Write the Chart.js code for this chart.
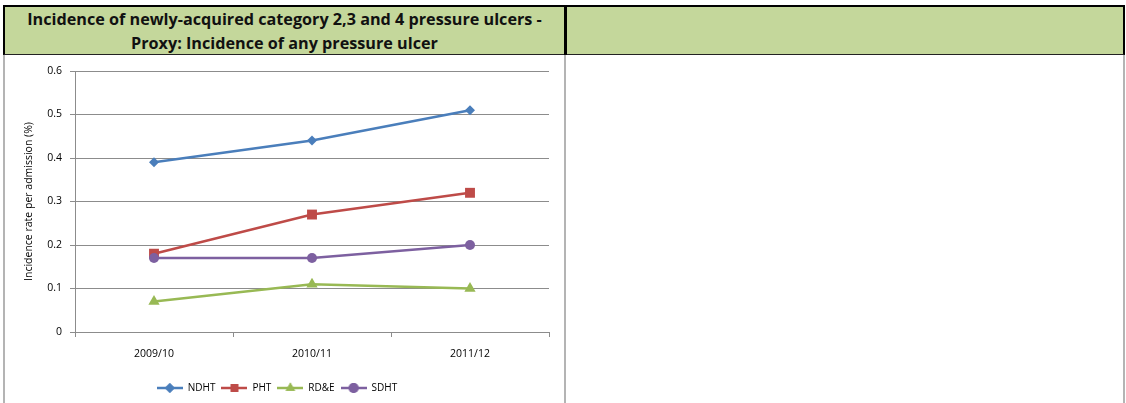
<!DOCTYPE html>
<html>
<head>
<meta charset="utf-8">
<script src="https://cdn.jsdelivr.net/npm/chart.js@4/dist/chart.umd.min.js"></script>
<style>
  html, body { margin: 0; padding: 0; background: #fff; }
  body { width: 1126px; height: 403px; position: relative; overflow: hidden; font-family: "Open Sans", sans-serif; }
  .hdr { position: absolute; top: 5px; left: 3px; width: 1122px; height: 50px; background: #C4D79B;
         box-sizing: border-box; border-top: 2px solid #000; border-left: 2px solid #000;
         border-right: 2px solid #000; border-bottom: 1px solid #222; }
  .sep { position: absolute; left: 564px; top: 5px; width: 3px; height: 50px; background: #000; }
  .title { position: absolute; left: 5px; top: 7px; width: 559px; height: 47px; display: flex;
           align-items: center; justify-content: center; text-align: center; font-weight: bold;
           font-size: 16.2px; line-height: 24px; color: #111; white-space: nowrap; }
  .vl { position: absolute; top: 55px; height: 348px; width: 2px; background: #b4b4b4; }
  #wrap { position: absolute; left: 5px; top: 56px; width: 559px; height: 347px; }
</style>
</head>
<body>
<div class="hdr"></div>
<div class="sep"></div>
<div class="title">Incidence of newly-acquired category 2,3 and 4 pressure ulcers -<br>Proxy: Incidence of any pressure ulcer</div>
<div class="vl" style="left:3px"></div>
<div class="vl" style="left:564px"></div>
<div class="vl" style="left:1123px"></div>
<div id="wrap"><canvas id="chart"></canvas></div>

<script>
// Financial years on the category axis
const years = ['2009/10', '2010/11', '2011/12'];

// Incidence rate per admission (%) for each trust
const ndht = [0.39, 0.44, 0.51];
const pht  = [0.18, 0.27, 0.32];
const rde  = [0.07, 0.11, 0.10];
const sdht = [0.17, 0.17, 0.20];

// Value-axis tick labels
const yTickLabels = ['0', '0.1', '0.2', '0.3', '0.4', '0.5', '0.6'];

const FONT = '"Open Sans", sans-serif';

const series = [
  { label: 'NDHT', data: ndht, color: '#4A7EBB', style: 'rectRot',  radius: 5,   order: 4 },
  { label: 'PHT',  data: pht,  color: '#BE4B48', style: 'rect',     radius: 7,   order: 3 },
  { label: 'RD&E', data: rde,  color: '#98B954', style: 'triangle', radius: 6.5, order: 2 },
  { label: 'SDHT', data: sdht, color: '#7D60A0', style: 'circle',   radius: 5,   order: 1 }
];

// Small line-plus-marker swatch for the legend
function makeSwatch(color, style, radius) {
  const w = 26, h = 12;
  const c = document.createElement('canvas');
  c.width = w; c.height = h;
  const ctx = c.getContext('2d');
  ctx.strokeStyle = color;
  ctx.lineWidth = 2.5;
  ctx.beginPath();
  ctx.moveTo(0, h / 2);
  ctx.lineTo(w, h / 2);
  ctx.stroke();
  ctx.fillStyle = color;
  Chart.helpers.drawPoint(ctx, { pointStyle: style, radius: Math.min(radius, 5.5), rotation: 0, borderWidth: 0 }, w / 2, h / 2);
  ctx.fill();
  return c;
}

const swatches = series.map(s => makeSwatch(s.color, s.style, s.radius));

new Chart(document.getElementById('chart'), {
  type: 'line',
  data: {
    labels: years,
    datasets: series.map(s => ({
      label: s.label,
      data: s.data,
      borderColor: s.color,
      backgroundColor: s.color,
      borderWidth: 2.5,
      pointStyle: s.style,
      pointRadius: s.radius,
      pointHoverRadius: s.radius,
      pointBackgroundColor: s.color,
      pointBorderColor: s.color,
      pointBorderWidth: 0,
      tension: 0,
      order: s.order
    }))
  },
  options: {
    responsive: true,
    maintainAspectRatio: false,
    animation: false,
    layout: { padding: { top: 15, right: 15, bottom: 0, left: 0 } },
    plugins: {
      tooltip: { enabled: false },
      legend: {
        position: 'bottom',
        labels: {
          usePointStyle: true,
          pointStyleWidth: 26,
          padding: 6,
          color: '#000',
          font: { family: FONT, size: 10 },
          generateLabels: (chart) => series.map((s, i) => ({
            text: s.label,
            pointStyle: swatches[i],
            fillStyle: s.color,
            strokeStyle: s.color,
            lineWidth: 0,
            hidden: false,
            datasetIndex: i
          }))
        }
      }
    },
    scales: {
      x: {
        offset: true,
        grid: { display: true, drawOnChartArea: false, drawTicks: true, tickLength: 5, color: '#8c8c8c', offset: true },
        border: { display: true, color: '#8c8c8c', width: 1 },
        ticks: { padding: 11, color: '#000', maxRotation: 0, font: { family: FONT, size: 10.5 } },
        afterFit: (scale) => { scale.height = 45; }
      },
      y: {
        min: 0,
        max: 0.6,
        grid: { color: '#8c8c8c', tickLength: 5, drawTicks: true },
        border: { display: true, color: '#8c8c8c', width: 1 },
        ticks: {
          stepSize: 0.1,
          padding: 8,
          color: '#000',
          font: { family: FONT, size: 10.5 },
          callback: (value, index) => yTickLabels[index]
        },
        title: {
          display: true,
          text: 'Incidence rate per admission (%)',
          color: '#000',
          font: { family: FONT, size: 10.5 },
          padding: { top: 18, bottom: 0 }
        },
        afterFit: (scale) => { scale.width = 70; }
      }
    }
  }
});
</script>
</body>
</html>
